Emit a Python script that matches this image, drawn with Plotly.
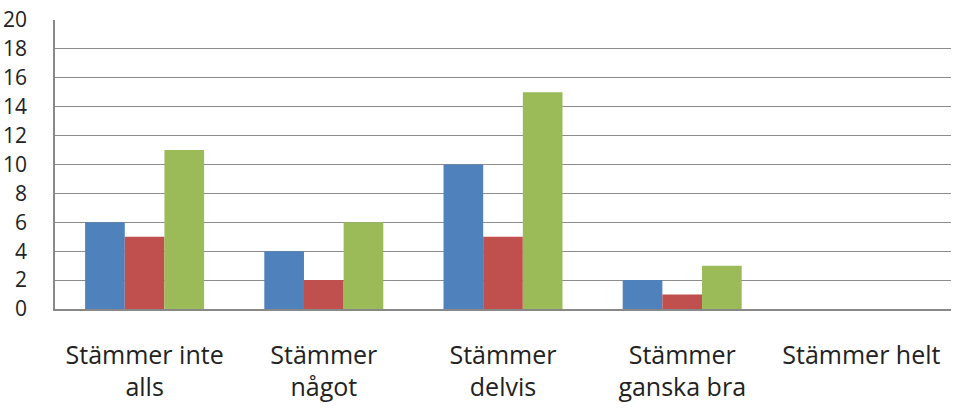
import plotly.graph_objects as go

categories = ["Stämmer inte<br>alls", "Stämmer<br>något", "Stämmer<br>delvis", "Stämmer<br>ganska bra", "Stämmer helt"]
series_a = [6, 4, 10, 2, 0]
series_b = [5, 2, 5, 1, 0]
series_c = [11, 6, 15, 3, 0]
y_ticks = list(range(0, 21, 2))

colors = ["#4F81BD", "#C0504D", "#9BBB59"]

fig = go.Figure()
for vals, col, name in zip([series_a, series_b, series_c], colors, ["A", "B", "C"]):
    fig.add_trace(go.Bar(x=list(range(len(categories))), y=vals, name=name,
                         marker=dict(color=col, line=dict(width=0))))

fig.update_layout(
    width=958, height=412,
    margin=dict(l=55, r=7, t=20, b=103),
    barmode="group", bargap=0.336, bargroupgap=0,
    plot_bgcolor="white", paper_bgcolor="white",
    showlegend=False,
    font=dict(family="Open Sans", size=19, color="#222222"),
)
fig.update_xaxes(
    range=[-0.5, 4.5], tickvals=list(range(len(categories))), ticktext=categories,
    showgrid=False, showline=True, linecolor="#888888", linewidth=1.5,
    ticks="", ticklabelstandoff=23, tickfont=dict(size=25), automargin=False,
)
fig.update_yaxes(
    range=[0, 20], tickvals=y_ticks, ticktext=[str(v) for v in y_ticks],
    showgrid=True, gridcolor="#8c8c8c", gridwidth=1.2,
    showline=True, linecolor="#888888", linewidth=1.5,
    ticks="", ticklabelstandoff=22, tickfont=dict(size=21), zeroline=False,
    automargin=False,
)
fig.write_html("out.html")
